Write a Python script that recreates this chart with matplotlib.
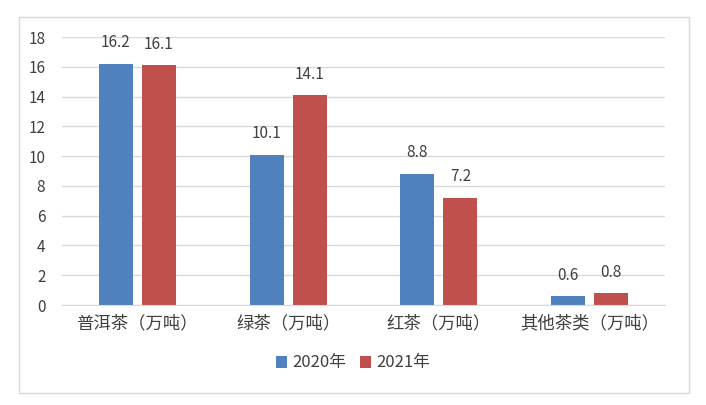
import numpy as np
import matplotlib.pyplot as plt
from matplotlib.patches import Rectangle

plt.rcParams['font.family'] = ['Noto Sans CJK SC', 'DejaVu Sans']

# 数据
categories = ['普洱茶（万吨）', '绿茶（万吨）', '红茶（万吨）', '其他茶类（万吨）']
series_names = ['2020年', '2021年']
v2020 = [16.2, 10.1, 8.8, 0.6]
v2021 = [16.1, 14.1, 7.2, 0.8]
yticks = [0, 2, 4, 6, 8, 10, 12, 14, 16, 18]

c_blue = '#4F81BD'
c_red = '#C0504D'
txt = '#404040'

fig = plt.figure(figsize=(7.06, 4.05), dpi=100)
fig.patches.append(Rectangle((19/706, 12/405), 670/706, 376/405, transform=fig.transFigure,
                             fill=False, edgecolor='#D9D9D9', linewidth=1))
ax = fig.add_axes([62/706, 100/405, 603/706, 268/405])

x = np.arange(len(categories))
w = 0.225
gap = 0.06
b1 = ax.bar(x - (w + gap) / 2, v2020, w, color=c_blue, label=series_names[0])
b2 = ax.bar(x + (w + gap) / 2, v2021, w, color=c_red, label=series_names[1])

for bars, vals in [(b1, v2020), (b2, v2021)]:
    for b, v in zip(bars, vals):
        ax.annotate(f'{v:.1f}', (b.get_x() + b.get_width() / 2, v), xytext=(0, 9),
                    textcoords='offset points', ha='center', va='bottom',
                    fontsize=11, color=txt)

ax.set_xlim(-0.5, len(categories) - 0.5)
ax.set_ylim(0, 18)
ax.set_yticks(yticks)
ax.set_xticks(x)
ax.set_xticklabels(categories)
ax.tick_params(axis='both', length=0, labelsize=11, colors=txt)
ax.tick_params(axis='x', pad=7, labelsize=12.5)
ax.tick_params(axis='y', pad=12)
ax.grid(axis='y', color='#D9D9D9', linewidth=1)
ax.set_axisbelow(True)
for s in ['top', 'right', 'left']:
    ax.spines[s].set_visible(False)
ax.spines['bottom'].set_color('#D9D9D9')

fig.legend(handles=[b1, b2], labels=series_names, loc='center', bbox_to_anchor=(0.5, 42/405),
           ncol=2, frameon=False, fontsize=12, handlelength=0.7, handleheight=0.7,
           handletextpad=0.3, columnspacing=0.8, labelcolor=txt)

plt.savefig('out.png', dpi=100)
